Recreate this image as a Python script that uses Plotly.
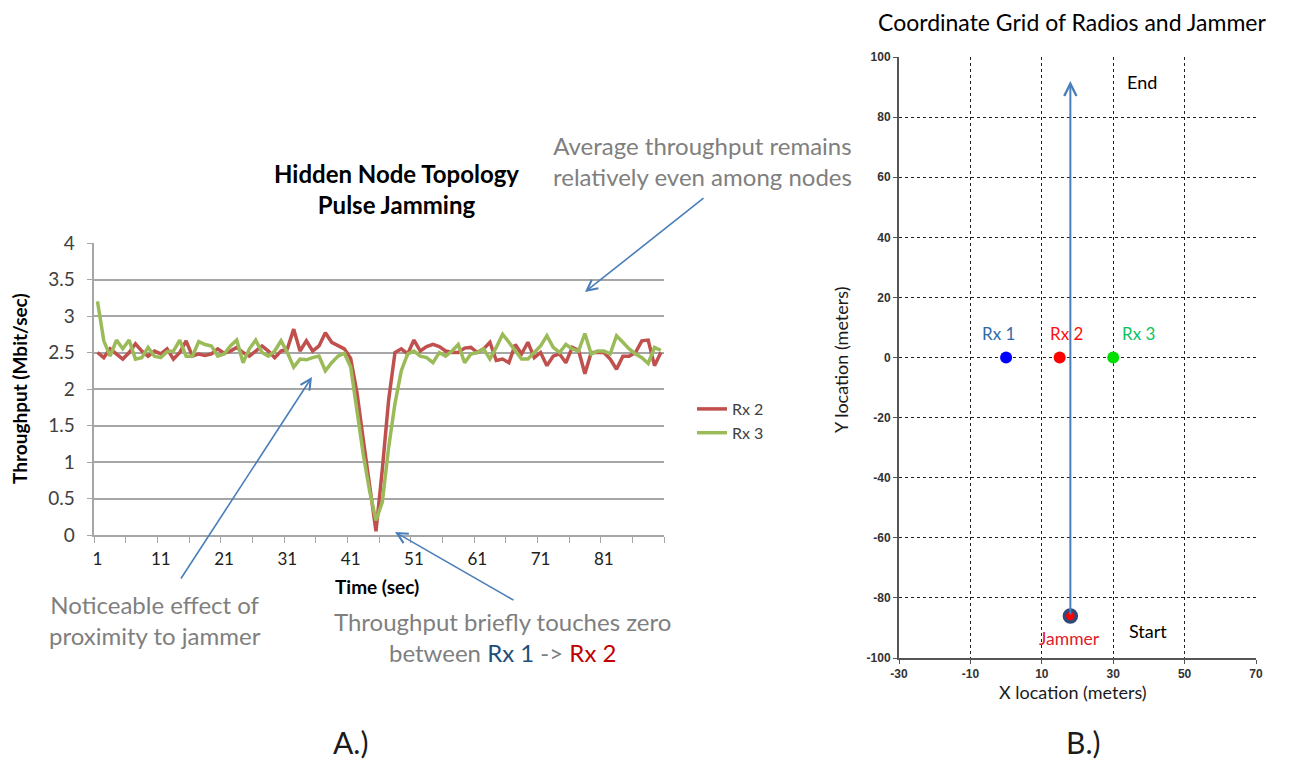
import plotly.graph_objects as go

# ---- panel A data: throughput (Mbit/sec) per second
time_sec = list(range(1, 91))
rx2 = [2.50, 2.43, 2.55, 2.48, 2.41, 2.50, 2.62, 2.52, 2.45, 2.52,
       2.48, 2.55, 2.41, 2.50, 2.66, 2.45, 2.48, 2.46, 2.48, 2.55,
       2.49, 2.52, 2.57, 2.50, 2.45, 2.52, 2.59, 2.52, 2.43, 2.52,
       2.55, 2.82, 2.52, 2.66, 2.52, 2.59, 2.77, 2.64, 2.59, 2.55,
       2.42, 1.95, 1.30, 0.65, 0.05, 0.90, 1.85, 2.50, 2.55, 2.48,
       2.67, 2.52, 2.58, 2.61, 2.58, 2.52, 2.50, 2.50, 2.56, 2.57,
       2.50, 2.55, 2.64, 2.39, 2.41, 2.36, 2.61, 2.48, 2.64, 2.43,
       2.50, 2.32, 2.45, 2.48, 2.36, 2.57, 2.53, 2.21, 2.50, 2.50,
       2.50, 2.41, 2.27, 2.45, 2.45, 2.50, 2.66, 2.67, 2.32, 2.50]
rx3 = [3.20, 2.66, 2.45, 2.67, 2.55, 2.67, 2.41, 2.43, 2.57, 2.45,
       2.43, 2.51, 2.52, 2.67, 2.45, 2.45, 2.65, 2.61, 2.59, 2.45,
       2.48, 2.59, 2.67, 2.36, 2.55, 2.67, 2.50, 2.45, 2.52, 2.66,
       2.50, 2.30, 2.41, 2.40, 2.43, 2.45, 2.25, 2.36, 2.45, 2.49,
       2.30, 1.70, 1.10, 0.60, 0.20, 0.45, 1.20, 1.80, 2.25, 2.48,
       2.52, 2.45, 2.43, 2.36, 2.50, 2.45, 2.52, 2.61, 2.36, 2.48,
       2.50, 2.55, 2.41, 2.57, 2.75, 2.64, 2.52, 2.41, 2.41, 2.50,
       2.59, 2.73, 2.57, 2.50, 2.61, 2.55, 2.52, 2.76, 2.48, 2.52,
       2.52, 2.48, 2.73, 2.64, 2.55, 2.48, 2.43, 2.35, 2.57, 2.53]
time_ticks = [1, 11, 21, 31, 41, 51, 61, 71, 81]

# ---- panel B data: positions in meters
radio_names = ["Rx 1", "Rx 2", "Rx 3"]
radio_x = [0, 15, 30]
radio_y = [0, 0, 0]
radio_colors = ["#0000ff", "#ff0000", "#00e000"]
label_colors = ["#2e6ca8", "#ff1010", "#10c060"]
label_x = [-2, 17, 37]
jammer_start = (18, -86)
jammer_end = (18, 98)
grid_x_ticks = [-30, -10, 10, 30, 50, 70]
grid_y_ticks = list(range(-100, 101, 20))

# the page body has an 8px margin, so the figure is 8px smaller and shifted
PAD = 8
W, H = 1290 - PAD, 759 - PAD
FONT = "Lato"


def px(x):
    return (x - PAD) / W


def py(y):
    return 1 - (y - PAD) / H


fig = go.Figure()

fig.add_trace(go.Scatter(x=time_sec, y=rx2, name="Rx 2", mode="lines",
                         line=dict(color="#c0504d", width=3.5)))
fig.add_trace(go.Scatter(x=time_sec, y=rx3, name="Rx 3", mode="lines",
                         line=dict(color="#9bbb59", width=3.5)))

# panel B
fig.add_trace(go.Scatter(x=radio_x, y=radio_y, mode="markers", xaxis="x2", yaxis="y2",
                         marker=dict(color=radio_colors, size=12), showlegend=False))
fig.add_trace(go.Scatter(x=[jammer_end[0]], y=[jammer_end[1]], mode="markers",
                         xaxis="x2", yaxis="y2", showlegend=False,
                         marker=dict(color="rgba(0,0,0,0)", size=8, symbol="circle-open",
                                     line=dict(color="#6a5cff", width=1.2))))

gray = "#a6a6a6"
bold12 = dict(size=12, color="#333", family="Liberation Sans", weight="bold")
fig.update_layout(
    width=W, height=H,
    margin=dict(l=0, r=0, t=0, b=0, autoexpand=False),
    paper_bgcolor="white", plot_bgcolor="white",
    font=dict(family=FONT, color="#404040"),
    xaxis=dict(domain=[px(94.3), px(664)], range=[0.5, 90.5],
               tickvals=time_ticks, ticks="outside", ticklen=8,
               tickcolor="rgba(0,0,0,0)", showgrid=False, zeroline=False,
               showline=True, linecolor=gray, linewidth=1.5,
               tickfont=dict(size=17, color="#202020"),
               minor=dict(ticks="outside", tick0=0.5, dtick=5, ticklen=6,
                          tickcolor=gray, showgrid=False),
               anchor="y"),
    yaxis=dict(domain=[py(535), py(243)], range=[0, 4], dtick=0.5,
               showgrid=True, gridcolor=gray, gridwidth=1.5, zeroline=False,
               showline=True, linecolor=gray, linewidth=1.5,
               ticks="outside", ticklen=6, tickcolor=gray, ticklabelstandoff=8,
               tickfont=dict(size=19, color="#404040"), anchor="x"),
    xaxis2=dict(domain=[px(899), px(1256)], range=[-30, 70],
                tickvals=grid_x_ticks, ticktext=[str(v) for v in grid_x_ticks],
                showgrid=True, gridcolor="#222", griddash="dot", gridwidth=1,
                zeroline=False, showline=True, linecolor="#555", linewidth=2,
                ticks="outside", ticklen=4, tickcolor="#555",
                tickfont=bold12, anchor="y2"),
    yaxis2=dict(domain=[py(658), py(57)], range=[-100, 100],
                tickvals=grid_y_ticks, ticktext=[str(v) for v in grid_y_ticks],
                showgrid=True, gridcolor="#222", griddash="dot", gridwidth=1,
                zeroline=False, showline=True, linecolor="#555", linewidth=2,
                ticks="outside", ticklen=4, tickcolor="#555",
                tickfont=bold12, anchor="x2"),
    legend=dict(x=px(692), y=py(392), xanchor="left", yanchor="top",
                font=dict(size=16, color="#404040"), tracegroupgap=6,
                bgcolor="rgba(0,0,0,0)"),
)

ann = []


def text(x, y, s, size, color="#404040", **kw):
    ann.append(dict(x=px(x), y=py(y), xref="paper", yref="paper", text=s,
                    xanchor="center", yanchor="middle", showarrow=False,
                    font=dict(size=size, color=color, family=FONT), **kw))


def label(x, y, s, size, color):
    ann.append(dict(x=x, y=y, xref="x2", yref="y2", text=s, showarrow=False,
                    xanchor="center", yanchor="middle",
                    font=dict(size=size, color=color, family=FONT)))


# panel A texts
text(396, 189, "<b>Hidden Node Topology<br>Pulse Jamming</b>", 24, "#000000")
text(20, 389, "<b>Throughput (Mbit/sec)</b>", 19, "#000000", textangle=-90)
text(377, 586, "<b>Time (sec)</b>", 19, "#000000")
text(703, 161, "Average throughput remains<br>relatively even among nodes", 24, "#7f7f7f")
text(155, 620, "Noticeable effect of<br>proximity to jammer", 24, "#7f7f7f")
text(502, 637, "Throughput briefly touches zero<br>between <span style='color:#1f4e79'>Rx 1</span>"
     " -> <span style='color:#c00000'>Rx 2</span>", 24, "#7f7f7f")
text(350, 742, "A.)", 30, "#1a1a1a")
text(1083, 742, "B.)", 30, "#1a1a1a")

# panel B texts
text(1072, 22, "Coordinate Grid of Radios and Jammer", 23, "#000000")
text(1073, 692, "X location (meters)", 18, "#1a1a1a")
text(841, 360, "Y location (meters)", 18, "#1a1a1a", textangle=-90)

for name, lx, col in zip(radio_names, label_x, label_colors):
    label(lx, 8, name, 17, col)
label(17.7, -93.6, "Jammer", 17.5, "#e0202a")
label(39.8, -91, "Start", 18, "#000000")
label(38.1, 91.6, "End", 18, "#000000")

# arrows
arrow_col = "#4a7ebb"


def arrow(hx, hy, tx, ty):
    ann.append(dict(x=px(hx), y=py(hy), xref="paper", yref="paper",
                    ax=tx - hx, ay=ty - hy, axref="pixel", ayref="pixel",
                    text="", showarrow=True, arrowhead=5, arrowsize=1.3,
                    arrowwidth=1.6, arrowcolor=arrow_col))


arrow(585, 292, 705, 197)
arrow(312, 377, 180, 580)
arrow(395, 532, 515, 601)

ann.append(dict(x=jammer_start[0], y=92, xref="x2", yref="y2",
                ax=jammer_start[0], ay=jammer_start[1], axref="x2", ayref="y2",
                text="", showarrow=True, arrowhead=5, arrowsize=1.2,
                arrowwidth=2, arrowcolor=arrow_col))

fig.update_layout(annotations=ann)

# jammer marker drawn last so it sits on top of the arrow
fig.add_trace(go.Scatter(x=[jammer_start[0]], y=[jammer_start[1]], mode="markers",
                         xaxis="x2", yaxis="y2", showlegend=False,
                         marker=dict(color="#ff0000", size=12,
                                     line=dict(color="#2f4a78", width=3.5))))
fig.write_html("out.html")
